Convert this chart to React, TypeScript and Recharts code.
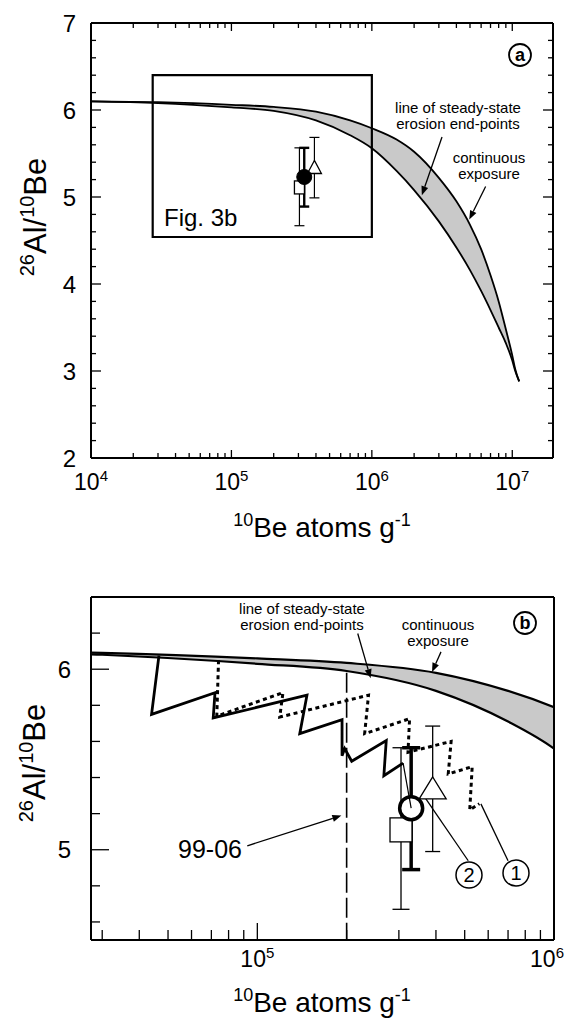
import React from 'react';
import { ComposedChart, XAxis, YAxis, Area, Line, Scatter, ErrorBar, ReferenceLine, ReferenceArea } from 'recharts';

const FONT = '"Liberation Sans", Arial, Helvetica, sans-serif';

// 10Be concentration (atoms/g) where the two model curves were read
const curveBe = [1e4, 3e4, 1e5, 2e5, 4e5, 7e5, 1e6, 1.5e6, 2e6, 3e6, 4e6, 5e6, 6e6, 7e6, 8e6, 9e6, 1e7, 1.05e7, 1.12e7];
// continuous exposure (upper edge of grey band)
const exposureRatio = [6.1, 6.09, 6.06, 6.035, 5.98, 5.88, 5.79, 5.66, 5.52, 5.22, 4.95, 4.68, 4.4, 4.1, 3.8, 3.48, 3.18, 3.02, 2.88];
// steady-state erosion end-points (lower edge)
const erosionRatio = [6.1, 6.08, 6.03, 5.99, 5.88, 5.71, 5.56, 5.3, 5.08, 4.72, 4.42, 4.16, 3.92, 3.7, 3.5, 3.32, 3.12, 3.0, 2.88];

// measured samples: square, circle, triangle
const sampleBe = [3.05e5, 3.3e5, 3.9e5];
const sampleRatio = [5.11, 5.23, 5.33];
const sampleLow = [4.67, 4.89, 4.99];
const sampleHigh = [5.565, 5.565, 5.685];

// burial / exposure history 2 (solid) and 1 (dotted)
const path2Be = [4.66e4, 4.4e4, 7.2e4, 7.1e4, 1.47e5, 1.39e5, 1.93e5, 1.93e5, 1.97e5, 2.08e5, 2.72e5, 2.67e5, 3.1e5];
const path2Ratio = [6.075, 5.75, 5.87, 5.73, 5.856, 5.643, 5.72, 5.52, 5.56, 5.49, 5.605, 5.41, 5.48];
// last leg of history 2, drawn thin, down into the circle
const path2EndBe = [3.1e5, 3.3e5];
const path2EndRatio = [5.48, 5.23];
const path1Be = [7.4e4, 7.3e4, 1.22e5, 1.19e5, 2.37e5, 2.3e5, 3.26e5, 3.22e5, 4.5e5, 4.4e5, 5.3e5, 5.2e5, 5.6e5];
const path1Ratio = [6.05, 5.74, 5.87, 5.735, 5.856, 5.643, 5.726, 5.54, 5.6, 5.42, 5.46, 5.22, 5.255];

// sample 99-06 limit
const cutoffBe = [2e5, 2e5];
const cutoffRatio = [5.98, 4.5];

// ticks
const xTicksA = [1e4, 2e4, 3e4, 4e4, 5e4, 6e4, 7e4, 8e4, 9e4, 1e5, 2e5, 3e5, 4e5, 5e5, 6e5, 7e5, 8e5, 9e5, 1e6, 2e6, 3e6, 4e6, 5e6, 6e6, 7e6, 8e6, 9e6, 1e7];
const xLabelsA = [1e4, 1e5, 1e6, 1e7];
const yTicksA = [2, 2.2, 2.4, 2.6, 2.8, 3, 3.2, 3.4, 3.6, 3.8, 4, 4.2, 4.4, 4.6, 4.8, 5, 5.2, 5.4, 5.6, 5.8, 6, 6.2, 6.4, 6.6, 6.8, 7];
const yLabelsA = [2, 3, 4, 5, 6, 7];
const xTicksB = [3e4, 4e4, 5e4, 6e4, 7e4, 8e4, 9e4, 1e5, 2e5, 3e5, 4e5, 5e5, 6e5, 7e5, 8e5, 9e5, 1e6];
const xLabelsB = [1e5, 1e6];
const yTicksB = [4.6, 4.8, 5, 5.2, 5.4, 5.6, 5.8, 6, 6.2];
const yLabelsB = [5, 6];

// Fig. 3b box on panel a
const zoomBox = { x1: 2.75e4, x2: 1e6, y1: 4.54, y2: 6.4 };

// annotation arrows (data coords)
const arrowsA = [
  { x1: 3.16e6, y1: 5.69, x2: 2.27e6, y2: 5.02, head: true },
  { x1: 6.46e6, y1: 5.12, x2: 4.94e6, y2: 4.74, head: true },
];
const arrowsB = [
  { x1: 2.18e5, y1: 6.198, x2: 2.41e5, y2: 5.95, head: true },
  { x1: 4.16e5, y1: 6.096, x2: 3.88e5, y2: 5.985, head: true },
  { x1: 9.25e4, y1: 5.022, x2: 1.92e5, y2: 5.189, head: true },
  { x1: 5.14e5, y1: 4.939, x2: 3.67e5, y2: 5.29, head: false },
  { x1: 7.0e5, y1: 4.939, x2: 5.67e5, y2: 5.254, head: false },
];

const bandRows = curveBe.map((x, i) => ({
  x,
  hi: exposureRatio[i],
  lo: erosionRatio[i],
  range: [erosionRatio[i], exposureRatio[i]],
}));
const sampleRows = sampleBe.map((x, i) => ({
  x,
  y: sampleRatio[i],
  err: [sampleRatio[i] - sampleLow[i], sampleHigh[i] - sampleRatio[i]],
}));
const path2Rows = path2Be.map((x, i) => ({ x, y: path2Ratio[i] }));
const path2EndRows = path2EndBe.map((x, i) => ({ x, y: path2EndRatio[i] }));
const path1Rows = path1Be.map((x, i) => ({ x, y: path1Ratio[i] }));
const cutoffRows = cutoffBe.map((x, i) => ({ x, y: cutoffRatio[i] }));

const XTick = (props: any) => {
  const { x, y, payload, labels, majorLen, minorLen, dir, labelDy, maxRight } = props;
  const v = payload.value;
  const major = labels.includes(v);
  const len = major ? majorLen : minorLen;
  const exp = Math.round(Math.log10(v));
  // keep the last label inside the page
  const lx = maxRight ? Math.min(x, maxRight - 18) : x;
  return (
    <g>
      <line x1={x} x2={x} y1={y} y2={y + dir * len} stroke="#000" strokeWidth={1.3} />
      {major && labelDy ? (
        <text x={lx} y={y + labelDy} textAnchor="middle" fontSize={23} fontFamily={FONT} fill="#000">
          10<tspan dy={-9} fontSize={15}>{exp}</tspan>
        </text>
      ) : null}
    </g>
  );
};

const YTick = (props: any) => {
  const { x, y, payload, labels, majorLen, minorLen, dir, labelDx } = props;
  const v = payload.value;
  const major = labels.includes(v);
  const len = major ? majorLen : minorLen;
  return (
    <g>
      <line x1={x} x2={x + dir * len} y1={y} y2={y} stroke="#000" strokeWidth={1.3} />
      {major && labelDx ? (
        <text x={x + labelDx} y={y + 8.5} textAnchor="end" fontSize={24} fontFamily={FONT} fill="#000">
          {v}
        </text>
      ) : null}
    </g>
  );
};

const arrowShape = (head: boolean) => (p: any) => {
  const { x1, y1, x2, y2 } = p;
  const ang = Math.atan2(y2 - y1, x2 - x1);
  const L = 9;
  const W = 3.5;
  const bx = x2 - L * Math.cos(ang);
  const by = y2 - L * Math.sin(ang);
  const pts = `${x2},${y2} ${bx - W * Math.sin(ang)},${by + W * Math.cos(ang)} ${bx + W * Math.sin(ang)},${by - W * Math.cos(ang)}`;
  return (
    <g>
      <line x1={x1} y1={y1} x2={head ? bx : x2} y2={head ? by : y2} stroke="#000" strokeWidth={1.3} />
      {head && <polygon points={pts} fill="#000" />}
    </g>
  );
};

const squareShape = (w: number, h: number) => (p: any) => (
  <rect x={p.cx - w / 2} y={p.cy - h / 2} width={w} height={h} fill="#fff" stroke="#000" strokeWidth={1.3} />
);
const triangleShape = (w: number, h: number) => (p: any) => (
  <polygon
    points={`${p.cx},${p.cy - h * 0.6} ${p.cx - w / 2},${p.cy + h * 0.4} ${p.cx + w / 2},${p.cy + h * 0.4}`}
    fill="#fff"
    stroke="#000"
    strokeWidth={1.3}
  />
);
const circleShape = (r: number, filled: boolean, sw: number) => (p: any) => (
  <circle cx={p.cx} cy={p.cy} r={r} fill={filled ? '#000' : '#fff'} stroke="#000" strokeWidth={sw} />
);

const frame = { stroke: '#000', strokeWidth: 2 };

const YTitle = ({ x, y }: { x: number; y: number }) => (
  <text transform={`translate(${x},${y}) rotate(-90)`} textAnchor="middle" fontSize={31}>
    <tspan fontSize={20} dy={-12}>26</tspan>
    <tspan dy={12}>Al/</tspan>
    <tspan fontSize={20} dy={-12}>10</tspan>
    <tspan dy={12}>Be</tspan>
  </text>
);
const XTitle = ({ x, y }: { x: number; y: number }) => (
  <text x={x} y={y} textAnchor="middle" fontSize={28}>
    <tspan fontSize={18} dy={-11}>10</tspan>
    <tspan dy={11}>Be atoms g</tspan>
    <tspan fontSize={18} dy={-11}>-1</tspan>
  </text>
);

const Annotations = () => (
  <svg width={567} height={1020} style={{ position: 'absolute', left: 0, top: 0, pointerEvents: 'none' }}>
    <g fontFamily={FONT} fill="#000">
      {/* panel a */}
      <YTitle x={46} y={217} />
      <XTitle x={322} y={537} />
      <circle cx={520} cy={55} r={11} fill="none" stroke="#000" strokeWidth={1.8} />
      <text x={520} y={61} textAnchor="middle" fontSize={18} fontWeight="bold">a</text>
      <text x={458} y={113} textAnchor="middle" fontSize={15}>line of steady-state</text>
      <text x={458} y={129} textAnchor="middle" fontSize={15}>erosion end-points</text>
      <text x={489} y={163} textAnchor="middle" fontSize={15}>continuous</text>
      <text x={489} y={179} textAnchor="middle" fontSize={15}>exposure</text>
      <text x={164} y={226} fontSize={24}>Fig. 3b</text>

      {/* panel b */}
      <YTitle x={45} y={763} />
      <XTitle x={322} y={1012} />
      <circle cx={525} cy={623} r={11} fill="none" stroke="#000" strokeWidth={1.8} />
      <text x={525} y={629} textAnchor="middle" fontSize={18} fontWeight="bold">b</text>
      <text x={302} y={614} textAnchor="middle" fontSize={15}>line of steady-state</text>
      <text x={302} y={630} textAnchor="middle" fontSize={15}>erosion end-points</text>
      <text x={438} y={630} textAnchor="middle" fontSize={15}>continuous</text>
      <text x={438} y={646} textAnchor="middle" fontSize={15}>exposure</text>
      <text x={178} y={858} fontSize={25}>99-06</text>
      <circle cx={469} cy={875} r={13} fill="#fff" stroke="#000" strokeWidth={1.5} />
      <text x={469} y={882} textAnchor="middle" fontSize={20}>2</text>
      <circle cx={516} cy={873} r={13} fill="#fff" stroke="#000" strokeWidth={1.5} />
      <text x={516} y={880} textAnchor="middle" fontSize={20}>1</text>
    </g>
  </svg>
);

export default function App() {
  return (
    <div style={{ position: 'absolute', left: 0, top: 0, width: 567, height: 1020, background: '#fff', fontFamily: FONT }}>
      {/* panel a */}
      <div style={{ position: 'absolute', left: 0, top: 0 }}>
        <ComposedChart width={567} height={545} data={bandRows} margin={{ top: 22, right: 13, bottom: 86, left: 90 }}>
          <XAxis dataKey="x" type="number" scale="log" domain={[1e4, 1.95e7]} allowDataOverflow ticks={xTicksA} interval={0}
            height={1} tickLine={false} tickSize={0} tickMargin={0} axisLine={frame}
            tick={<XTick labels={xLabelsA} majorLen={8} minorLen={5} dir={-1} labelDy={32} />} />
          <XAxis xAxisId="top" orientation="top" dataKey="x" type="number" scale="log" domain={[1e4, 1.95e7]} allowDataOverflow
            ticks={xTicksA} interval={0} height={1} tickLine={false} tickSize={0} tickMargin={0} axisLine={frame}
            tick={<XTick labels={xLabelsA} majorLen={8} minorLen={5} dir={1} />} />
          <YAxis type="number" domain={[2, 7]} allowDataOverflow ticks={yTicksA} interval={0} width={1}
            tickLine={false} tickSize={0} tickMargin={0} axisLine={frame}
            tick={<YTick labels={yLabelsA} majorLen={10} minorLen={5} dir={1} labelDx={-15} />} />
          <YAxis yAxisId="r" orientation="right" type="number" domain={[2, 7]} allowDataOverflow ticks={yTicksA} interval={0} width={1}
            tickLine={false} tickSize={0} tickMargin={0} axisLine={frame}
            tick={<YTick labels={yLabelsA} majorLen={10} minorLen={5} dir={-1} />} />
          <Area dataKey="range" type="monotone" fill="#c9c9c9" fillOpacity={1} stroke="none" isAnimationActive={false} />
          <Line dataKey="hi" type="monotone" stroke="#000" strokeWidth={1.8} dot={false} isAnimationActive={false} />
          <Line dataKey="lo" type="monotone" stroke="#000" strokeWidth={1.8} dot={false} isAnimationActive={false} />
          <ReferenceArea x1={zoomBox.x1} x2={zoomBox.x2} y1={zoomBox.y1} y2={zoomBox.y2} fill="none" fillOpacity={0} stroke="#000" strokeWidth={2.2} />
          <Scatter data={[sampleRows[0]]} dataKey="y" shape={squareShape(10, 13)} isAnimationActive={false}>
            <ErrorBar dataKey="err" direction="y" width={5} stroke="#000" strokeWidth={1.2} />
          </Scatter>
          <Scatter data={[sampleRows[2]]} dataKey="y" shape={triangleShape(14, 13)} isAnimationActive={false}>
            <ErrorBar dataKey="err" direction="y" width={5} stroke="#000" strokeWidth={1.2} />
          </Scatter>
          <Scatter data={[sampleRows[1]]} dataKey="y" shape={circleShape(7.5, true, 1)} isAnimationActive={false}>
            <ErrorBar dataKey="err" direction="y" width={5} stroke="#000" strokeWidth={2.4} />
          </Scatter>
          {arrowsA.map((a, i) => (
            <ReferenceLine key={i} segment={[{ x: a.x1, y: a.y1 }, { x: a.x2, y: a.y2 }]} shape={arrowShape(a.head)} />
          ))}
        </ComposedChart>
      </div>

      {/* panel b */}
      <div style={{ position: 'absolute', left: 0, top: 545 }}>
        <ComposedChart width={567} height={475} data={bandRows} margin={{ top: 51, right: 12, bottom: 79, left: 90 }}>
          <XAxis dataKey="x" type="number" scale="log" domain={[2.75e4, 1e6]} allowDataOverflow ticks={xTicksB} interval={0}
            height={1} tickLine={false} tickSize={0} tickMargin={0} axisLine={frame}
            tick={<XTick labels={xLabelsB} majorLen={17} minorLen={10} dir={-1} labelDy={27} maxRight={565} />} />
          <XAxis xAxisId="top" orientation="top" dataKey="x" type="number" scale="log" domain={[2.75e4, 1e6]} allowDataOverflow
            height={1} tick={false} tickLine={false} axisLine={frame} />
          <YAxis type="number" domain={[4.5, 6.4]} allowDataOverflow ticks={yTicksB} interval={0} width={1}
            tickLine={false} tickSize={0} tickMargin={0} axisLine={frame}
            tick={<YTick labels={yLabelsB} majorLen={18} minorLen={9} dir={1} labelDx={-20} />} />
          <YAxis yAxisId="r" orientation="right" type="number" domain={[4.5, 6.4]} allowDataOverflow width={1}
            tick={false} tickLine={false} axisLine={frame} />
          <Area dataKey="range" type="monotone" fill="#c9c9c9" fillOpacity={1} stroke="none" isAnimationActive={false} />
          <Line dataKey="hi" type="monotone" stroke="#000" strokeWidth={2.2} dot={false} isAnimationActive={false} />
          <Line dataKey="lo" type="monotone" stroke="#000" strokeWidth={2.2} dot={false} isAnimationActive={false} />
          <Line data={cutoffRows} dataKey="y" type="linear" stroke="#000" strokeWidth={1.6} strokeDasharray="20 5" dot={false} isAnimationActive={false} />
          <Scatter data={[sampleRows[0]]} dataKey="y" shape={squareShape(22, 24)} isAnimationActive={false}>
            <ErrorBar dataKey="err" direction="y" width={8.5} stroke="#000" strokeWidth={1.3} />
          </Scatter>
          <Scatter data={[sampleRows[2]]} dataKey="y" shape={triangleShape(27, 22)} isAnimationActive={false}>
            <ErrorBar dataKey="err" direction="y" width={7.5} stroke="#000" strokeWidth={1.3} />
          </Scatter>
          <Scatter data={[sampleRows[1]]} dataKey="y" shape={circleShape(11.5, false, 3.5)} isAnimationActive={false}>
            <ErrorBar dataKey="err" direction="y" width={9} stroke="#000" strokeWidth={3.5} />
          </Scatter>
          <Line data={path1Rows} dataKey="y" type="linear" stroke="#000" strokeWidth={3} strokeDasharray="4 3.5" dot={false} isAnimationActive={false} zIndex={700} />
          <Line data={path2Rows} dataKey="y" type="linear" stroke="#000" strokeWidth={2.8} dot={false} isAnimationActive={false} zIndex={700} />
          <Line data={path2EndRows} dataKey="y" type="linear" stroke="#000" strokeWidth={1.2} dot={false} isAnimationActive={false} zIndex={700} />
          {arrowsB.map((a, i) => (
            <ReferenceLine key={i} segment={[{ x: a.x1, y: a.y1 }, { x: a.x2, y: a.y2 }]} shape={arrowShape(a.head)} />
          ))}
        </ComposedChart>
      </div>

      <Annotations />
    </div>
  );
}
